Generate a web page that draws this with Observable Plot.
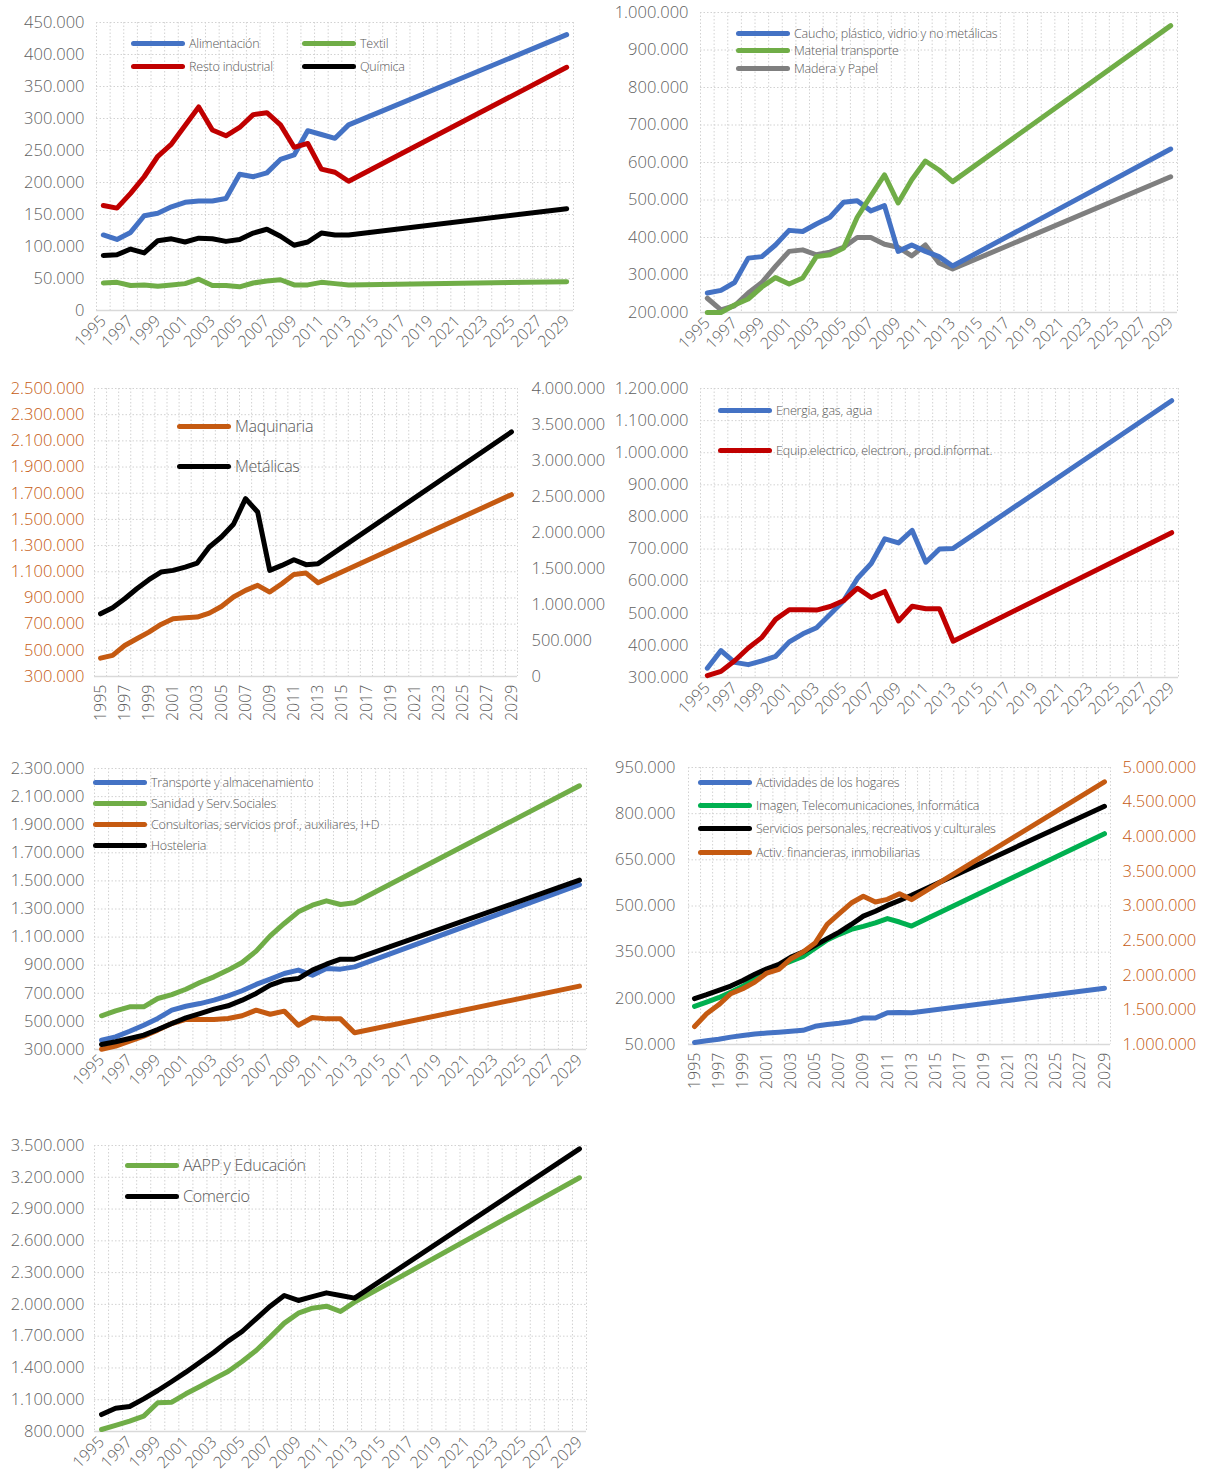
<!DOCTYPE html>
<html><head><meta charset="utf-8">
<script src="https://cdn.jsdelivr.net/npm/d3@7"></script>
<script src="https://cdn.jsdelivr.net/npm/@observablehq/plot@0.6"></script>
<style>
body{margin:0;background:#fff;}
#root{position:relative;width:1205px;height:1479px;background:#fff;font-family:'Open Sans',sans-serif;overflow:hidden;}
.pnl{position:absolute;}
.lg{position:absolute;display:flex;align-items:center;color:#595959;white-space:nowrap;font-weight:300;}
.lg span.sw{display:inline-block;height:5px;border-radius:3px;margin-right:4px;}
svg text{font-weight:300;}
</style></head>
<body><div id="root"></div>
<script>
// ---------- data ----------
const years = [1995,1996,1997,1998,1999,2000,2001,2002,2003,2004,2005,2006,2007,2008,2009,2010,2011,2012,2013,2029];
const tickYears = [1995,1997,1999,2001,2003,2005,2007,2009,2011,2013,2015,2017,2019,2021,2023,2025,2027,2029];

// Panel 1
const alimentacion = [118000,111000,122000,148000,152000,162000,169000,171000,171000,175000,213000,209000,215000,236000,243000,281000,275000,269000,290000,431000];
const restoIndustrial = [164000,160000,183000,209000,241000,260000,289000,318000,282000,273000,286000,306000,309000,290000,255000,261000,221000,216000,202000,380000];
const textil = [43000,44000,39000,40000,38000,40000,42000,49000,39000,39000,37000,43000,46000,48000,40000,40000,44000,42000,40000,45000];
const quimica = [86000,87000,96000,90000,109000,112000,107000,113000,112000,108000,111000,121000,127000,116000,102000,107000,121000,118000,118000,159000];
const ticks1 = [0,50000,100000,150000,200000,250000,300000,350000,400000,450000];

// Panel 2
const caucho = [252000,259000,280000,345000,349000,380000,419000,416000,436000,454000,494000,498000,471000,485000,363000,380000,363000,349000,324000,636000];
const materialTransporte = [200000,200000,220000,236000,268000,293000,276000,292000,349000,354000,372000,454000,511000,567000,492000,554000,604000,580000,549000,965000];
const maderaPapel = [238000,207000,218000,252000,280000,323000,363000,367000,354000,361000,374000,400000,400000,382000,374000,351000,380000,332000,316000,562000];
const ticks2 = [200000,300000,400000,500000,600000,700000,800000,900000,1000000];

// Panel 3
const maquinaria = [440000,461000,537000,588000,639000,698000,741000,749000,754000,784000,835000,907000,958000,996000,945000,1009000,1080000,1090000,1016000,1689000];
const metalicas = [871000,955000,1080000,1219000,1344000,1451000,1474000,1520000,1576000,1798000,1937000,2114000,2470000,2285000,1474000,1543000,1622000,1553000,1567000,3397000];
const ticks3L = [300000,500000,700000,900000,1100000,1300000,1500000,1700000,1900000,2100000,2300000,2500000];
const ticks3R = [0,500000,1000000,1500000,2000000,2500000,3000000,3500000,4000000];

// Panel 4
const energia = [329000,384000,347000,340000,352000,366000,411000,436000,455000,497000,540000,609000,655000,732000,719000,758000,659000,700000,702000,1162000];
const equipElectrico = [306000,319000,352000,392000,425000,481000,511000,511000,510000,521000,540000,578000,549000,568000,476000,522000,514000,514000,413000,751000];
const ticks4 = [300000,400000,500000,600000,700000,800000,900000,1000000,1100000,1200000];

// Panel 5
const transporte = [366000,390000,430000,473000,521000,580000,608000,627000,651000,682000,718000,763000,801000,841000,865000,829000,876000,872000,888000,1474000];
const sanidad = [540000,575000,604000,604000,663000,691000,729000,777000,817000,865000,919000,1000000,1109000,1197000,1280000,1327000,1358000,1332000,1344000,2177000];
const consultorias = [302000,324000,359000,395000,438000,485000,514000,514000,514000,521000,540000,580000,551000,573000,473000,528000,518000,518000,419000,751000];
const hosteleria = [336000,355000,378000,402000,442000,485000,525000,556000,587000,611000,651000,699000,758000,793000,805000,865000,907000,943000,943000,1505000];
const ticks5 = [300000,500000,700000,900000,1100000,1300000,1500000,1700000,1900000,2100000,2300000];

// Panel 6
const hogares = [56500,62000,67000,74000,79000,84000,87000,90000,93000,96000,109000,115000,119000,125000,136000,136000,153000,154000,153000,233000];
const imagenTelecom = [174000,188000,202000,220000,239000,264000,291000,305000,321000,336000,363000,390000,408000,424000,434000,445000,459000,448000,435000,735000];
const serviciosPersonales = [199000,212000,226000,240000,258000,278000,296000,310000,334000,350000,372000,394000,415000,440000,467000,483000,502000,518000,535000,824000];
const financieras = [1260000,1443000,1573000,1733000,1805000,1901000,2031000,2084000,2239000,2335000,2465000,2735000,2889000,3043000,3140000,3058000,3096000,3178000,3092000,4793000];
const ticks6L = [50000,200000,350000,500000,650000,800000,950000];
const ticks6R = [1000000,1500000,2000000,2500000,3000000,3500000,4000000,4500000,5000000];

// Panel 7
const aapp = [819000,857000,898000,945000,1071000,1077000,1156000,1225000,1297000,1366000,1461000,1565000,1691000,1823000,1917000,1964000,1983000,1933000,2021000,3195000];
const comercio = [960000,1020000,1036000,1108000,1187000,1272000,1360000,1454000,1549000,1653000,1744000,1864000,1983000,2084000,2037000,2074000,2109000,2084000,2059000,3468000];
const ticks7 = [800000,1100000,1400000,1700000,2000000,2300000,2600000,2900000,3200000,3500000];

// ---------- helpers ----------
const C = {blue:"#4472C4", red:"#C00000", green:"#70AD47", black:"#000000", gray:"#7F7F7F", orange:"#C55A11", bgreen:"#00B050"};
const fmt = d3.formatLocale({decimal:",", thousands:".", grouping:[3], currency:["","€"]}).format(",d");
const root = document.getElementById("root");
const gridYears = d3.range(1994.5, 2030, 1);
const TXT = "#5f5f5f";

function panel(o) {
  const yDom = [o.yTicks[0], o.yTicks[o.yTicks.length-1]];
  const sec = o.secTicks ? d3.scaleLinear([o.secTicks[0], o.secTicks[o.secTicks.length-1]], yDom) : null;
  const marks = [
    Plot.ruleX(gridYears, {stroke:"#d2d2d2", strokeDasharray:"1.5,2", strokeWidth:1}),
    Plot.ruleY(o.yTicks.slice(1), {stroke:"#d2d2d2", strokeDasharray:"1.5,2", strokeWidth:1}),
    Plot.ruleY([yDom[0]], {stroke:"#d9d9d9", strokeWidth:1.4})
  ];
  for (const s of o.series) {
    const rows = years.map((y,i)=>({year:y, value: s.values[i]}));
    marks.push(Plot.line(rows, {x:"year", y: s.secondary ? d => sec(d.value) : "value",
      stroke:s.color, strokeWidth:5, strokeLinejoin:"round", strokeLinecap:"round"}));
  }
  marks.push(Plot.axisY(o.yTicks, {anchor:"left", label:null, tickSize:0, tickPadding:o.padL ?? 11, tickFormat:fmt,
    fontSize:16.5, color:o.leftColor || TXT}));
  if (sec) {
    marks.push(Plot.axisY(o.secTicks.map(v=>sec(v)), {anchor:"right", label:null, tickSize:0, tickPadding:o.padR ?? 13,
      tickFormat: d => fmt(Math.round(sec.invert(d)/1000)*1000), fontSize:16.5, color:o.rightColor || TXT}));
  }
  marks.push(Plot.axisX(tickYears, {anchor:"bottom", label:null, tickSize:0, tickRotate:o.rot, tickPadding:o.rot === -90 ? 8 : 8,
    tickFormat: d => String(d), fontSize: 16, color:TXT}));
  const svg = Plot.plot({
    width:o.width, height:o.height,
    marginLeft:o.mL, marginRight:o.mR, marginTop:o.mT, marginBottom:o.mB,
    x:{type:"linear", domain:[1994.5, 2029.5]},
    y:{type:"linear", domain:yDom},
    style:{fontFamily:"'Open Sans', sans-serif", fontSize:"16px", color:TXT, background:"transparent", overflow:"visible"},
    marks
  });
  const wrap = document.createElement("div");
  wrap.className = "pnl";
  wrap.style.left = o.left + "px"; wrap.style.top = o.top + "px";
  wrap.appendChild(svg);
  root.appendChild(wrap);
}

function legend(items) {
  for (const it of items) {
    const d = document.createElement("div");
    d.className = "lg";
    d.style.left = it.x + "px"; d.style.top = (it.y - 12) + "px"; d.style.height = "24px";
    d.style.fontSize = (it.fs || 12.5) + "px";
    d.style.letterSpacing = (it.ls ?? -0.2) + "px";
    const sw = document.createElement("span");
    sw.className = "sw"; sw.style.width = (it.w || 54) + "px"; sw.style.background = it.color;
    const t = document.createElement("span");
    t.textContent = it.label;
    d.appendChild(sw); d.appendChild(t);
    root.appendChild(d);
  }
}

// ---------- panels ----------
panel({left:0, top:0, width:600, height:370, mL:96, mR:27, mT:22, mB:60, yTicks:ticks1, rot:-45, padL:12,
  series:[{values:textil,color:C.green},{values:quimica,color:C.black},{values:alimentacion,color:C.blue},{values:restoIndustrial,color:C.red}]});
legend([
  {x:131, y:43, color:C.blue, label:"Alimentación"},
  {x:302, y:43, color:C.green, label:"Textil"},
  {x:131, y:66, color:C.red, label:"Resto industrial"},
  {x:302, y:66, color:C.black, label:"Química"}
]);

panel({left:600, top:0, width:605, height:370, mL:100, mR:28, mT:12, mB:58, yTicks:ticks2, rot:-45, padL:12,
  series:[{values:maderaPapel,color:C.gray},{values:caucho,color:C.blue},{values:materialTransporte,color:C.green}]});
legend([
  {x:736, y:33, color:C.blue, label:"Caucho, plástico, vidrio y no metálicas"},
  {x:736, y:50, color:C.green, label:"Material transporte"},
  {x:736, y:68, color:C.gray, label:"Madera y Papel"}
]);

panel({left:0, top:370, width:600, height:370, mL:94, mR:83, mT:18, mB:64, yTicks:ticks3L, secTicks:ticks3R, rot:-90,
  padL:10, padR:14, leftColor:C.orange,
  series:[{values:maquinaria,color:C.orange},{values:metalicas,color:C.black,secondary:true}]});
legend([
  {x:177, y:426, color:C.orange, label:"Maquinaria", fs:16, ls:-0.3},
  {x:177, y:466, color:C.black, label:"Metálicas", fs:16, ls:-0.3}
]);

panel({left:600, top:370, width:605, height:370, mL:100, mR:27, mT:18, mB:63, yTicks:ticks4, rot:-45, padL:12,
  series:[{values:energia,color:C.blue},{values:equipElectrico,color:C.red}]});
legend([
  {x:718, y:410, color:C.blue, label:"Energia, gas, agua"},
  {x:718, y:450, color:C.red, label:"Equip.electrico, electron., prod.informat."}
]);

panel({left:0, top:750, width:600, height:380, mL:94, mR:14, mT:18, mB:81, yTicks:ticks5, rot:-45, padL:10,
  series:[{values:transporte,color:C.blue},{values:sanidad,color:C.green},{values:consultorias,color:C.orange},{values:hosteleria,color:C.black}]});
legend([
  {x:93, y:782, color:C.blue, label:"Transporte y almacenamiento"},
  {x:93, y:803, color:C.green, label:"Sanidad y Serv.Sociales"},
  {x:93, y:824, color:C.orange, label:"Consultorias, servicios prof., auxiliares, I+D"},
  {x:93, y:845, color:C.black, label:"Hosteleria"}
]);

panel({left:600, top:750, width:605, height:380, mL:88, mR:95, mT:17, mB:86, yTicks:ticks6L, secTicks:ticks6R, rot:-90,
  padL:13, padR:12, rightColor:C.orange,
  series:[{values:hogares,color:C.blue},{values:imagenTelecom,color:C.bgreen},{values:serviciosPersonales,color:C.black},{values:financieras,color:C.orange,secondary:true}]});
legend([
  {x:698, y:782, color:C.blue, label:"Actividades de los hogares"},
  {x:698, y:805, color:C.bgreen, label:"Imagen, Telecomunicaciones, Informática"},
  {x:698, y:828, color:C.black, label:"Servicios personales, recreativos y culturales"},
  {x:698, y:852, color:C.orange, label:"Activ. financieras, inmobiliarias"}
]);

panel({left:0, top:1130, width:600, height:349, mL:94, mR:14, mT:15, mB:48, yTicks:ticks7, rot:-45, padL:10,
  series:[{values:aapp,color:C.green},{values:comercio,color:C.black}]});
legend([
  {x:125, y:1165, color:C.green, label:"AAPP y Educación", fs:16, ls:-0.3},
  {x:125, y:1196, color:C.black, label:"Comercio", fs:16, ls:-0.3}
]);
</script></body></html>
